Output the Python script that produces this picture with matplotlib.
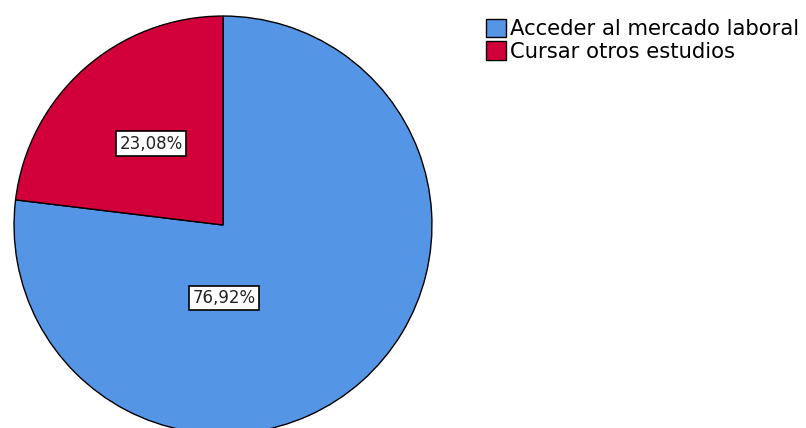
import matplotlib.pyplot as plt

categories = ['Acceder al mercado laboral', 'Cursar otros estudios']
percent = [76.92, 23.08]
colors = ['#5595E5', '#D1003A']

fig = plt.figure(figsize=(8.06, 4.28), dpi=100)
ax = fig.add_axes([13/806, -7/428, 420/806, 420/428])

wedges, texts, autotexts = ax.pie(percent, colors=colors, startangle=90, counterclock=False,
                                  autopct=lambda p: ('%.2f%%' % p).replace('.', ','),
                                  pctdistance=0.52,
                                  wedgeprops=dict(edgecolor='black', linewidth=1))
ax.set_aspect('equal')
ax.set_xlim(-1.005, 1.005)
ax.set_ylim(-1.005, 1.005)

# SPSS puts the big slice label lower down, near the middle
autotexts[0].set_position((0.005, -0.35))
for t in autotexts:
    t.set_fontsize(12)
    t.set_color('#222222')
    t.set_bbox(dict(facecolor='white', edgecolor='black', boxstyle='square,pad=0.2', linewidth=1.2))

fig.legend(wedges, categories, loc='upper left', bbox_to_anchor=(486/806, 1 - 19/428),
           frameon=False, fontsize=15.2, handlelength=0.95, handleheight=0.95,
           handletextpad=0.2, labelspacing=0.1, borderaxespad=0, borderpad=0)

fig.savefig('out.png', dpi=100)
